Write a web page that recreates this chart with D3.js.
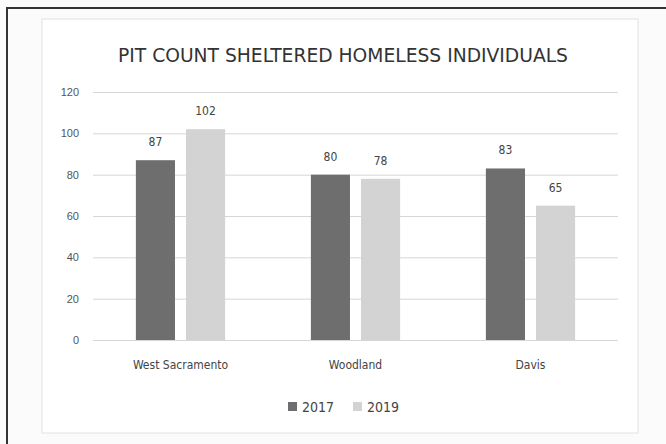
<!DOCTYPE html>
<html>
<head>
<meta charset="utf-8">
<script src="https://cdn.jsdelivr.net/npm/d3@7"></script>
<style>
	body { margin: 0; background: #fff; }
	svg { display: block; font-family: 'Liberation Sans Narrow', 'DejaVu Sans Condensed', sans-serif; }
</style>
</head>
<body>
<div id="chart"></div>
<script>
const categories = ['West Sacramento', 'Woodland', 'Davis']
const years = ['2017', '2019']
const values2017 = [87, 80, 83]
const values2019 = [102, 78, 65]
const yTicks = [0, 20, 40, 60, 80, 100, 120]

const width = 666
const height = 444
const colors = { '2017': '#6e6e6e', '2019': '#d3d3d3' }

const svg = d3
	.select('#chart')
	.append('svg')
	.attr('width', width)
	.attr('height', height)

// scanned page frame
svg.append('rect').attr('width', width).attr('height', height).attr('fill', '#fbfbfb')
svg
	.append('path')
	.attr('d', 'M7,444 V8 H666')
	.attr('fill', 'none')
	.attr('stroke', '#333')
	.attr('stroke-width', 2)
svg
	.append('rect')
	.attr('x', 42)
	.attr('y', 19)
	.attr('width', 596)
	.attr('height', 414)
	.attr('fill', '#fff')
	.attr('stroke', '#e2e2e2')

const x0 = d3
	.scaleBand()
	.domain(categories)
	.range([93, 618])
	.paddingInner(0.49)
	.paddingOuter(0.245)

const x1 = d3
	.scaleBand()
	.domain(years)
	.range([0, x0.bandwidth()])
	.paddingInner(0.22)

const y = d3.scaleLinear().domain([0, 120]).range([340, 92])

// gridlines + labels
const yAxis = svg
	.append('g')
	.attr('transform', 'translate(93,0)')
	.call(
		d3
			.axisLeft(y)
			.tickValues(yTicks)
			.tickSize(-525)
			.tickPadding(14)
	)
yAxis.select('.domain').remove()
yAxis.selectAll('line').attr('stroke', '#d6d6d6')
yAxis
	.selectAll('text')
	.attr('fill', '#555')
	.style('font-size', '11px')

svg
	.append('text')
	.attr('x', 343)
	.attr('y', 62)
	.attr('text-anchor', 'middle')
	.attr('textLength', 450)
	.attr('lengthAdjust', 'spacingAndGlyphs')
	.attr('fill', '#333')
	.style('font-size', '19px')
	.text('PIT COUNT SHELTERED HOMELESS INDIVIDUALS')

const rows = categories.map((c, i) => ({
	category: c,
	values: [
		{ year: '2017', value: values2017[i] },
		{ year: '2019', value: values2019[i] }
	]
}))

const group = svg
	.selectAll('.group')
	.data(rows)
	.enter()
	.append('g')
	.attr('transform', d => `translate(${x0(d.category)},0)`)

group
	.selectAll('rect')
	.data(d => d.values)
	.enter()
	.append('rect')
	.attr('x', d => x1(d.year))
	.attr('y', d => y(d.value))
	.attr('width', x1.bandwidth())
	.attr('height', d => y(0) - y(d.value))
	.attr('fill', d => colors[d.year])

group
	.selectAll('.val')
	.data(d => d.values)
	.enter()
	.append('text')
	.attr('x', d => x1(d.year) + x1.bandwidth() / 2)
	.attr('y', d => y(d.value) - 14)
	.attr('text-anchor', 'middle')
	.attr('fill', '#444')
	.style('font-size', '12px')
	.text(d => d.value)

// category labels
svg
	.selectAll('.cat')
	.data(categories)
	.enter()
	.append('text')
	.attr('x', d => x0(d) + x0.bandwidth() / 2)
	.attr('y', 369)
	.attr('text-anchor', 'middle')
	.attr('fill', '#444')
	.style('font-size', '12px')
	.text(d => d)

// legend
const legend = svg
	.selectAll('.legend')
	.data(years)
	.enter()
	.append('g')
	.attr('transform', (d, i) => `translate(${288 + i * 65},0)`)

legend
	.append('rect')
	.attr('y', 402)
	.attr('width', 9)
	.attr('height', 9)
	.attr('fill', d => colors[d])

legend
	.append('text')
	.attr('x', 14)
	.attr('y', 412)
	.attr('fill', '#444')
	.style('font-size', '14px')
	.text(d => d)
</script>
</body>
</html>
